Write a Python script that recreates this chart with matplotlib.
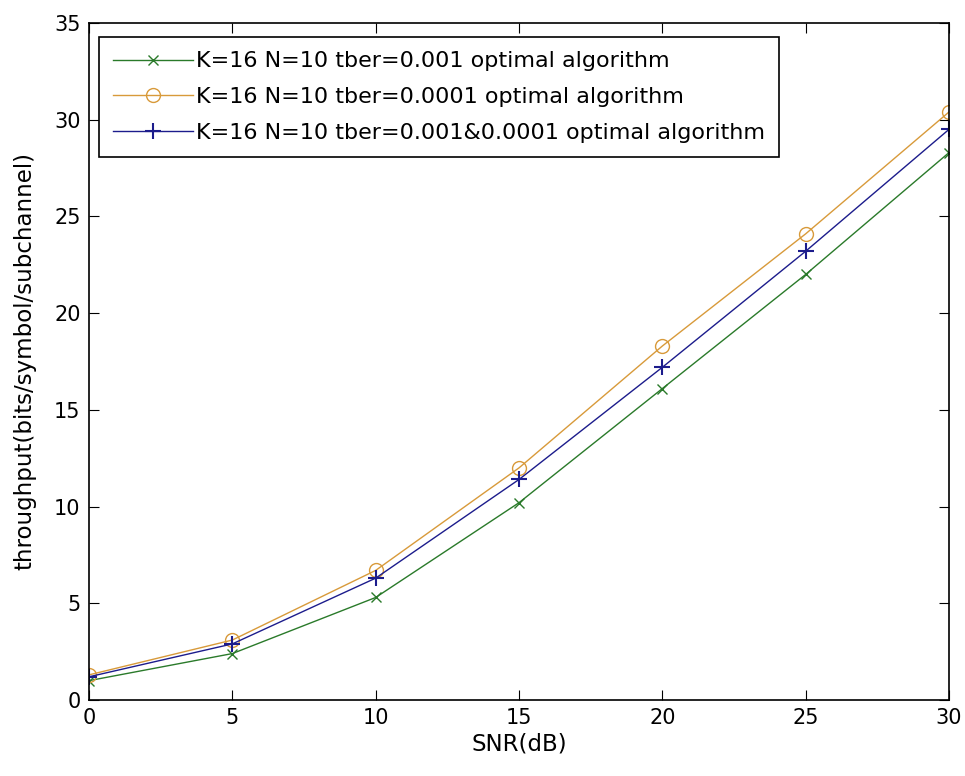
import matplotlib.pyplot as plt
import numpy as np

# Data
snr = [0, 5, 10, 15, 20, 25, 30]
tp_001 = [1.0, 2.4, 5.3, 10.2, 16.1, 22.0, 28.3]
tp_0001 = [1.3, 3.1, 6.7, 12.0, 18.3, 24.1, 30.4]
tp_both = [1.2, 2.9, 6.3, 11.4, 17.2, 23.2, 29.5]

labels = ['K=16 N=10 tber=0.001 optimal algorithm',
          'K=16 N=10 tber=0.0001 optimal algorithm',
          'K=16 N=10 tber=0.001&0.0001 optimal algorithm']

plt.rcParams['font.family'] = ['DejaVu Sans']

fig = plt.figure(figsize=(9.65, 7.76), dpi=100)
ax = fig.add_axes([89 / 965, 76 / 776, 860 / 965, 677 / 776])

ax.plot(snr, tp_001, color='#2a7a2a', marker='x', markersize=7, linewidth=1, label=labels[0])
ax.plot(snr, tp_0001, color='#d89a3a', marker='o', markersize=10, markerfacecolor='none',
        linewidth=1, label=labels[1])
ax.plot(snr, tp_both, color='#1c1c8c', marker='+', markersize=12, markeredgewidth=1.5,
        linewidth=1, label=labels[2])

ax.set_xlim(0, 30)
ax.set_ylim(0, 35)
ax.set_xticks(np.arange(0, 31, 5))
ax.set_yticks(np.arange(0, 36, 5))
ax.tick_params(direction='in', top=True, right=True, length=7, labelsize=15, pad=6)
for s in ax.spines.values():
    s.set_linewidth(1.2)

ax.set_xlabel('SNR(dB)', fontsize=16.5, labelpad=3)
ax.set_ylabel('throughput(bits/symbol/subchannel)', fontsize=16.5, labelpad=13)

leg = ax.legend(loc='upper left', fontsize=16, fancybox=False, framealpha=1,
                edgecolor='black', bbox_to_anchor=(10 / 860, 1 - 14 / 677),
                borderaxespad=0, handlelength=3.6, labelspacing=0.7,
                borderpad=0.65, handletextpad=0.1)
leg.get_frame().set_linewidth(1.2)

fig.savefig('out.png', dpi=100)
